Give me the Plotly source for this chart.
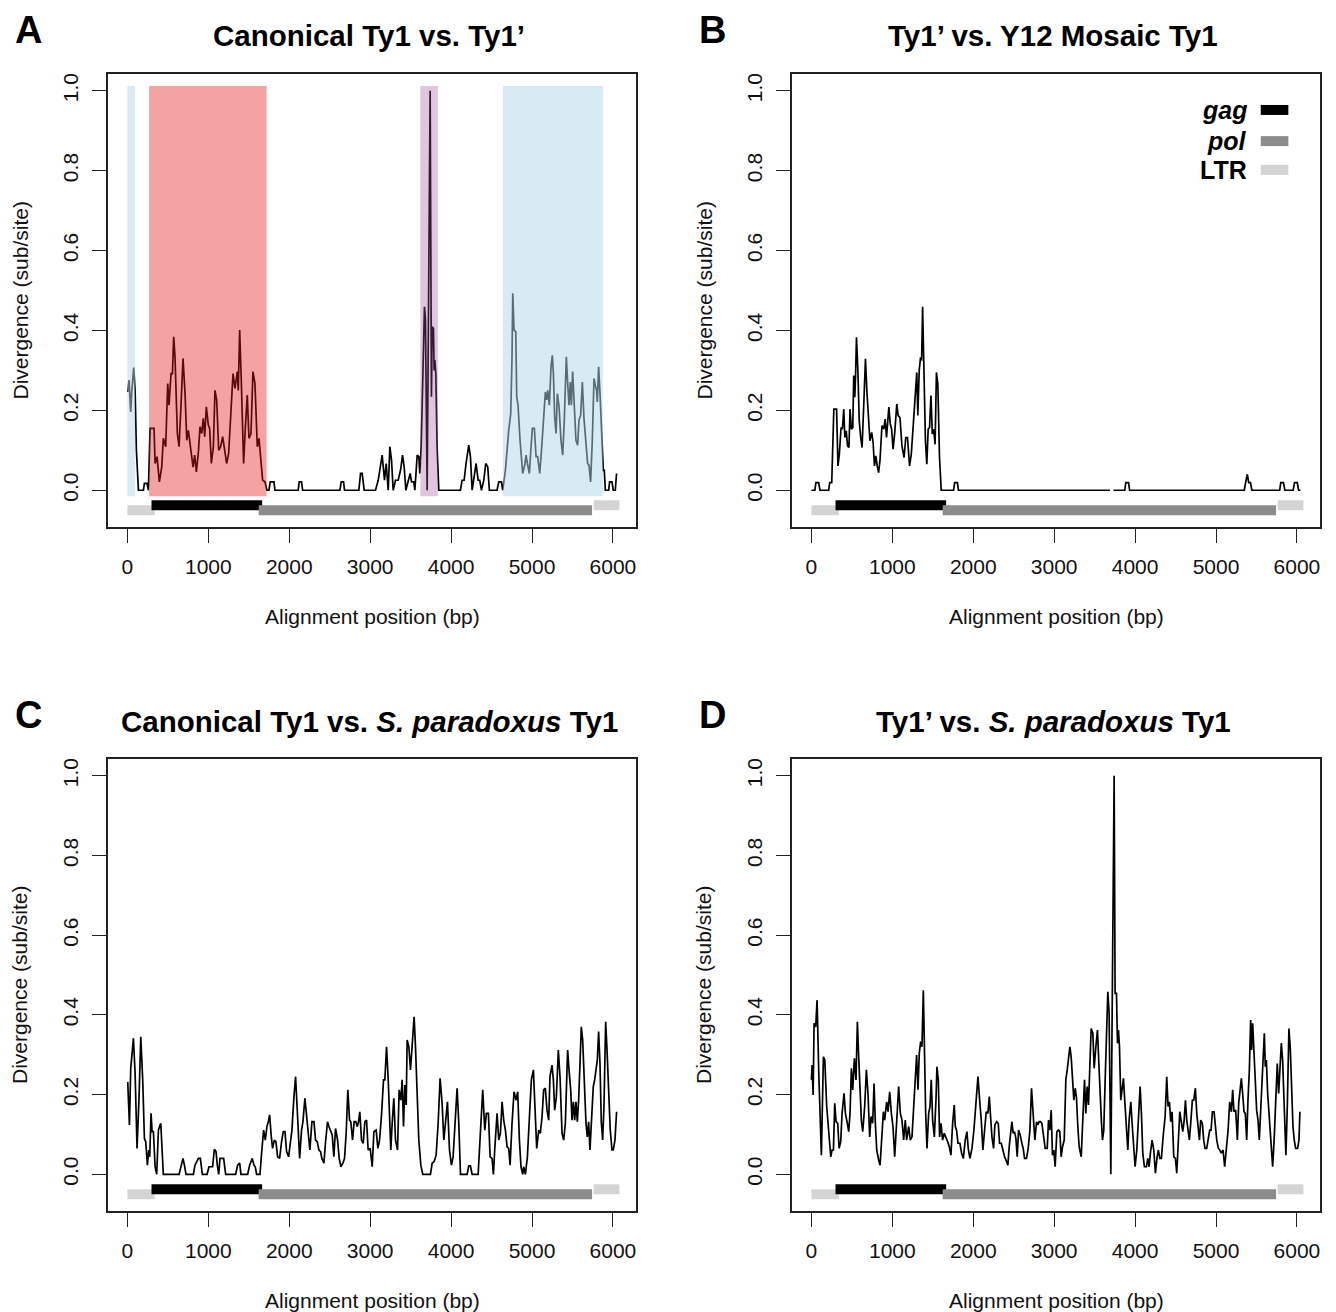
import plotly.graph_objects as go

# ---- data ----
# panel A: Canonical Ty1 vs. Ty1'
a_pos = [4, 20, 41, 53, 78, 95, 111, 136, 198, 210,
         243, 259, 280, 329, 342, 366, 395, 424, 444, 473,
         498, 514, 539, 556, 572, 588, 617, 638, 663, 687,
         712, 733, 753, 774, 794, 811, 831, 852, 877, 897,
         918, 938, 955, 975, 1000, 1016, 1037, 1062, 1082, 1103,
         1128, 1152, 1177, 1202, 1226, 1251, 1276, 1305, 1329, 1358,
         1370, 1387, 1407, 1436, 1457, 1481, 1502, 1527, 1551, 1576,
         1605, 1626, 1642, 1671, 1700, 1724, 1749, 1765, 1811, 1823,
         2111, 2123, 2152, 2165, 2626, 2642, 2671, 2683, 2860, 2881,
         2901, 2926, 3066, 3099, 3148, 3177, 3198, 3223, 3243, 3264,
         3284, 3313, 3346, 3375, 3400, 3420, 3441, 3469, 3494, 3511,
         3539, 3552, 3581, 3601, 3613, 3630, 3650, 3671, 3683, 3696,
         3704, 3741, 3757, 3766, 3782, 3790, 3799, 3811, 3827, 3848,
         4115, 4136, 4161, 4185, 4218, 4239, 4260, 4284, 4309, 4334,
         4354, 4375, 4404, 4428, 4453, 4473, 4568, 4589, 4622, 4638,
         4671, 4712, 4737, 4753, 4762, 4778, 4799, 4811, 4827, 4852,
         4885, 4910, 4926, 4943, 4967, 4988, 5004, 5029, 5050, 5070,
         5095, 5120, 5144, 5165, 5181, 5194, 5214, 5235, 5251, 5264,
         5280, 5297, 5313, 5334, 5358, 5379, 5399, 5424, 5441, 5457,
         5473, 5486, 5502, 5523, 5543, 5564, 5580, 5601, 5622, 5642,
         5667, 5687, 5704, 5724, 5745, 5766, 5782, 5798, 5807, 5823,
         5840, 5856, 5881, 5893, 5906, 5947, 5959, 5988, 6004, 6029,
         6045]
a_div = [0.246, 0.276, 0.196, 0.246, 0.307, 0.250, 0.100, 0, 0, 0.017,
         0.017, 0, 0.155, 0.155, 0.067, 0.084, 0.021, 0.058, 0.130, 0.109,
         0.267, 0.213, 0.292, 0.292, 0.384, 0.334, 0.142, 0.109, 0.217, 0.330,
         0.242, 0.125, 0.150, 0.117, 0.096, 0.058, 0.088, 0.046, 0.096, 0.159,
         0.142, 0.180, 0.134, 0.209, 0.163, 0.155, 0.067, 0.109, 0.250, 0.226,
         0.100, 0.109, 0.134, 0.092, 0.067, 0.092, 0.175, 0.292, 0.255, 0.297,
         0.250, 0.401, 0.276, 0.067, 0.155, 0.238, 0.130, 0.142, 0.297, 0.267,
         0.109, 0.130, 0.092, 0.025, 0.021, 0, 0, 0.021, 0.021, 0,
         0, 0.021, 0.021, 0, 0, 0.021, 0.021, 0, 0, 0.042,
         0.042, 0, 0, 0.025, 0.088, 0.025, 0.067, 0, 0.109, 0.075,
         0, 0.025, 0.025, 0.050, 0.088, 0.058, 0, 0.021, 0.042, 0.021,
         0.021, 0, 0.088, 0.084, 0.042, 0.109, 0.259, 0.459, 0.426, 0.192,
         0, 1.0, 0.234, 0.409, 0.405, 0.300, 0.326, 0.292, 0.109, 0,
         0, 0.025, 0.025, 0.067, 0.113, 0.084, 0, 0.033, 0.067, 0.025,
         0.025, 0, 0.025, 0.067, 0.058, 0, 0, 0.021, 0.021, 0,
         0.050, 0.150, 0.192, 0.334, 0.493, 0.401, 0.397, 0.234, 0.213, 0.125,
         0.042, 0.063, 0.088, 0.067, 0.042, 0.109, 0.155, 0.155, 0.084, 0.084,
         0.042, 0.109, 0.175, 0.246, 0.226, 0.250, 0.213, 0.309, 0.338, 0.292,
         0.184, 0.142, 0.242, 0.209, 0.125, 0.088, 0.175, 0.334, 0.267, 0.213,
         0.271, 0.213, 0.297, 0.192, 0.125, 0.113, 0.175, 0.188, 0.271, 0.180,
         0.125, 0.067, 0.063, 0.021, 0.125, 0.280, 0.263, 0.250, 0.221, 0.309,
         0.242, 0.155, 0.050, 0.050, 0, 0, 0.021, 0.021, 0, 0,
         0.042]

# panel B: Ty1' vs. Y12 Mosaic Ty1 (None = gap in alignment)
b_pos = [0, 43, 55, 89, 106, 213, 226, 251, 277, 311,
         328, 345, 366, 383, 400, 413, 430, 447, 464, 477,
         494, 511, 523, 536, 545, 557, 574, 591, 609, 626,
         647, 668, 685, 706, 723, 745, 762, 779, 796, 813,
         830, 847, 872, 894, 911, 928, 940, 957, 974, 991,
         1009, 1030, 1055, 1072, 1094, 1119, 1145, 1166, 1187, 1213,
         1234, 1255, 1277, 1302, 1315, 1332, 1349, 1362, 1374, 1391,
         1409, 1426, 1443, 1460, 1477, 1494, 1511, 1528, 1545, 1562,
         1583, 1604, 1757, 1770, 1804, 1817, 3689, 3700, 3732, 3872,
         3885, 3919, 3932, 5349, 5366, 5387, 5404, 5426, 5443, 5787,
         5800, 5834, 5851, 5953, 5970, 6004, 6021, 6043]
b_div = [0, 0, 0.019, 0.019, 0, 0, 0.019, 0.019, 0.203, 0.203,
         0.061, 0.090, 0.157, 0.153, 0.203, 0.132, 0.149, 0.111, 0.107, 0.203,
         0.153, 0.157, 0.287, 0.233, 0.283, 0.383, 0.300, 0.174, 0.132, 0.107,
         0.216, 0.329, 0.249, 0.166, 0.124, 0.145, 0.120, 0.061, 0.086, 0.061,
         0.044, 0.074, 0.162, 0.153, 0.178, 0.132, 0.157, 0.208, 0.166, 0.153,
         0.103, 0.145, 0.216, 0.187, 0.182, 0.111, 0.082, 0.132, 0.132, 0.061,
         0.090, 0.149, 0.228, 0.295, 0.187, 0.300, 0.333, 0.325, 0.459, 0.308,
         0.124, 0.065, 0.153, 0.157, 0.237, 0.141, 0.153, 0.115, 0.295, 0.266,
         0.082, 0, 0, 0.019, 0.019, 0, 0, None, 0, 0,
         0.019, 0.019, 0, 0, 0.019, 0.040, 0.019, 0.019, 0, 0,
         0.019, 0.019, 0, 0, 0.019, 0.019, 0, 0]

# panel C: Canonical Ty1 vs. S. paradoxus Ty1
c_pos = [4, 25, 41, 74, 95, 119, 144, 165, 189, 210,
         226, 247, 263, 276, 292, 305, 321, 342, 362, 383,
         412, 424, 444, 638, 663, 687, 704, 724, 815, 835,
         877, 901, 926, 984, 1008, 1053, 1074, 1095, 1111, 1128,
         1144, 1189, 1214, 1337, 1362, 1387, 1403, 1486, 1510, 1543,
         1564, 1580, 1597, 1638, 1658, 1683, 1704, 1724, 1741, 1757,
         1778, 1794, 1815, 1835, 1856, 1881, 1905, 1926, 1947, 1967,
         1992, 2012, 2033, 2058, 2078, 2103, 2128, 2152, 2169, 2193,
         2218, 2239, 2255, 2280, 2305, 2325, 2346, 2366, 2387, 2403,
         2428, 2449, 2473, 2490, 2510, 2531, 2551, 2572, 2597, 2617,
         2638, 2663, 2683, 2704, 2724, 2745, 2761, 2782, 2802, 2823,
         2840, 2856, 2872, 2893, 2914, 2934, 2955, 2975, 3000, 3025,
         3046, 3074, 3095, 3116, 3140, 3165, 3181, 3202, 3223, 3239,
         3255, 3272, 3292, 3313, 3338, 3358, 3379, 3395, 3412, 3428,
         3445, 3457, 3478, 3498, 3519, 3543, 3560, 3581, 3601, 3626,
         3650, 3745, 3766, 3790, 3815, 3840, 3864, 3889, 3910, 3930,
         3955, 3980, 4004, 4025, 4050, 4074, 4095, 4116, 4198, 4218,
         4239, 4260, 4334, 4362, 4391, 4416, 4436, 4461, 4482, 4506,
         4523, 4539, 4568, 4589, 4609, 4630, 4650, 4671, 4692, 4712,
         4729, 4753, 4778, 4803, 4823, 4844, 4864, 4885, 4897, 4918,
         4943, 4967, 4992, 5017, 5037, 5058, 5083, 5103, 5124, 5144,
         5165, 5185, 5206, 5222, 5247, 5264, 5280, 5301, 5325, 5346,
         5371, 5391, 5412, 5440, 5461, 5478, 5494, 5511, 5527, 5543,
         5560, 5576, 5593, 5609, 5626, 5646, 5667, 5683, 5700, 5716,
         5737, 5757, 5774, 5791, 5807, 5823, 5840, 5856, 5873, 5889,
         5910, 5926, 5947, 5967, 5988, 6004, 6025, 6045]
c_div = [0.232, 0.124, 0.266, 0.341, 0.253, 0.065, 0.195, 0.345, 0.237, 0.090,
         0.082, 0.023, 0.061, 0.044, 0.153, 0.107, 0.107, 0.019, 0, 0.111,
         0.128, 0.086, 0, 0, 0.023, 0.040, 0.023, 0, 0, 0.023,
         0.040, 0.040, 0, 0, 0.019, 0.019, 0.063, 0.057, 0.023, 0,
         0.040, 0.040, 0, 0, 0.023, 0.028, 0, 0, 0.023, 0.040,
         0.023, 0.019, 0, 0, 0.053, 0.111, 0.086, 0.120, 0.132, 0.149,
         0.094, 0.065, 0.086, 0.082, 0.044, 0.040, 0.082, 0.107, 0.107, 0.057,
         0.044, 0.078, 0.111, 0.195, 0.245, 0.145, 0.040, 0.111, 0.132, 0.191,
         0.140, 0.090, 0.061, 0.132, 0.132, 0.086, 0.082, 0.061, 0.057, 0.040,
         0.028, 0.082, 0.132, 0.120, 0.111, 0.099, 0.044, 0.115, 0.086, 0.040,
         0.019, 0.028, 0.040, 0.107, 0.212, 0.136, 0.132, 0.086, 0.132, 0.132,
         0.120, 0.132, 0.157, 0.086, 0.078, 0.132, 0.136, 0.061, 0.065, 0.019,
         0.107, 0.111, 0.065, 0.086, 0.149, 0.237, 0.237, 0.320, 0.237, 0.128,
         0.061, 0.128, 0.191, 0.086, 0.061, 0.212, 0.186, 0.237, 0.120, 0.224,
         0.174, 0.337, 0.320, 0.262, 0.324, 0.395, 0.320, 0.178, 0.086, 0.023,
         0, 0, 0.028, 0.032, 0.048, 0.128, 0.241, 0.178, 0.086, 0.128,
         0.182, 0.061, 0.023, 0.044, 0.128, 0.216, 0.128, 0, 0, 0.021,
         0.021, 0, 0, 0.111, 0.212, 0.111, 0.153, 0.153, 0.044, 0.040,
         0, 0.061, 0.153, 0.086, 0.103, 0.182, 0.136, 0.111, 0.069, 0.065,
         0.023, 0.128, 0.207, 0.186, 0.207, 0.086, 0.019, 0, 0.019, 0,
         0.044, 0.140, 0.237, 0.262, 0.145, 0.065, 0.111, 0.103, 0.145, 0.212,
         0.216, 0.161, 0.136, 0.245, 0.274, 0.237, 0.161, 0.195, 0.312, 0.245,
         0.103, 0.086, 0.128, 0.312, 0.253, 0.212, 0.136, 0.182, 0.136, 0.182,
         0.132, 0.186, 0.278, 0.370, 0.337, 0.212, 0.128, 0.094, 0.132, 0.061,
         0.128, 0.220, 0.237, 0.262, 0.287, 0.358, 0.278, 0.132, 0.086, 0.170,
         0.383, 0.316, 0.195, 0.111, 0.061, 0.061, 0.086, 0.157]

# panel D: Ty1' vs. S. paradoxus Ty1
d_pos = [0, 8, 21, 33, 53, 70, 91, 107, 123, 148,
         165, 189, 214, 239, 255, 272, 288, 305, 325, 342,
         362, 379, 403, 420, 440, 461, 477, 494, 510, 531,
         551, 568, 584, 601, 617, 634, 658, 679, 700, 720,
         737, 757, 774, 790, 807, 831, 848, 864, 889, 905,
         930, 947, 967, 988, 1008, 1029, 1053, 1078, 1099, 1119,
         1140, 1160, 1177, 1202, 1222, 1243, 1263, 1284, 1300, 1317,
         1333, 1350, 1366, 1383, 1399, 1412, 1428, 1449, 1465, 1481,
         1498, 1519, 1539, 1551, 1568, 1584, 1601, 1621, 1642, 1663,
         1683, 1704, 1724, 1745, 1765, 1778, 1794, 1811, 1835, 1856,
         1877, 1901, 1922, 1938, 1959, 1984, 2008, 2033, 2058, 2082,
         2099, 2119, 2140, 2160, 2181, 2198, 2214, 2231, 2251, 2267,
         2288, 2309, 2325, 2346, 2366, 2387, 2412, 2428, 2444, 2461,
         2477, 2494, 2510, 2527, 2543, 2560, 2580, 2601, 2617, 2634,
         2658, 2679, 2700, 2720, 2741, 2761, 2782, 2798, 2815, 2831,
         2848, 2868, 2889, 2914, 2930, 2947, 2963, 2979, 2996, 3012,
         3033, 3053, 3070, 3086, 3103, 3124, 3144, 3161, 3177, 3194,
         3210, 3227, 3243, 3260, 3276, 3292, 3309, 3334, 3354, 3375,
         3391, 3408, 3424, 3445, 3457, 3478, 3494, 3515, 3535, 3552,
         3568, 3585, 3597, 3613, 3630, 3646, 3663, 3679, 3700, 3741,
         3753, 3770, 3782, 3794, 3807, 3823, 3840, 3856, 3873, 3893,
         3910, 3926, 3947, 3963, 3984, 4000, 4021, 4041, 4062, 4078,
         4095, 4115, 4140, 4157, 4173, 4189, 4210, 4231, 4251, 4272,
         4288, 4305, 4325, 4346, 4371, 4391, 4408, 4424, 4441, 4457,
         4478, 4498, 4515, 4531, 4552, 4568, 4589, 4605, 4622, 4638,
         4655, 4671, 4687, 4708, 4725, 4745, 4762, 4778, 4795, 4811,
         4831, 4848, 4864, 4885, 4902, 4922, 4939, 4955, 4976, 4992,
         5009, 5029, 5046, 5066, 5087, 5107, 5128, 5149, 5169, 5190,
         5206, 5222, 5243, 5264, 5280, 5296, 5313, 5329, 5346, 5362,
         5379, 5395, 5412, 5428, 5440, 5453, 5469, 5486, 5502, 5519,
         5535, 5552, 5568, 5585, 5597, 5609, 5622, 5638, 5654, 5675,
         5700, 5720, 5741, 5757, 5774, 5790, 5807, 5823, 5844, 5864,
         5881, 5901, 5918, 5934, 5951, 5967, 5984, 6008, 6025, 6037]
d_div = [0.237, 0.274, 0.199, 0.379, 0.370, 0.437, 0.253, 0.111, 0.048, 0.295,
         0.287, 0.170, 0.103, 0.044, 0.061, 0.061, 0.178, 0.132, 0.128, 0.065,
         0.082, 0.153, 0.203, 0.153, 0.132, 0.107, 0.153, 0.266, 0.212, 0.291,
         0.237, 0.383, 0.295, 0.216, 0.136, 0.107, 0.170, 0.262, 0.199, 0.094,
         0.145, 0.128, 0.228, 0.128, 0.061, 0.036, 0.023, 0.074, 0.157, 0.136,
         0.182, 0.157, 0.207, 0.153, 0.120, 0.044, 0.136, 0.220, 0.153, 0.136,
         0.086, 0.136, 0.086, 0.120, 0.086, 0.094, 0.166, 0.237, 0.299, 0.212,
         0.304, 0.333, 0.320, 0.462, 0.245, 0.153, 0.065, 0.153, 0.170, 0.237,
         0.136, 0.094, 0.186, 0.270, 0.237, 0.094, 0.128, 0.086, 0.103, 0.094,
         0.082, 0.069, 0.048, 0.128, 0.174, 0.120, 0.111, 0.078, 0.078, 0.053,
         0.040, 0.086, 0.107, 0.065, 0.040, 0.065, 0.111, 0.178, 0.245, 0.178,
         0.136, 0.061, 0.120, 0.157, 0.153, 0.195, 0.145, 0.094, 0.065, 0.124,
         0.132, 0.128, 0.078, 0.078, 0.061, 0.044, 0.032, 0.023, 0.069, 0.099,
         0.132, 0.103, 0.107, 0.090, 0.044, 0.111, 0.099, 0.078, 0.065, 0.040,
         0.040, 0.065, 0.111, 0.216, 0.136, 0.086, 0.132, 0.124, 0.132, 0.132,
         0.128, 0.094, 0.065, 0.065, 0.136, 0.111, 0.161, 0.048, 0.061, 0.019,
         0.107, 0.111, 0.107, 0.044, 0.069, 0.086, 0.237, 0.262, 0.295, 0.320,
         0.295, 0.237, 0.186, 0.216, 0.191, 0.120, 0.069, 0.044, 0.153, 0.237,
         0.153, 0.220, 0.174, 0.320, 0.366, 0.354, 0.266, 0.320, 0.362, 0.278,
         0.186, 0.128, 0.086, 0.111, 0.237, 0.362, 0.458, 0.404, 0, 1.0,
         0.454, 0.454, 0.329, 0.362, 0.320, 0.186, 0.212, 0.241, 0.182, 0.120,
         0.061, 0.136, 0.182, 0.128, 0.061, 0.019, 0.061, 0.136, 0.220, 0.153,
         0.053, 0.019, 0.019, 0.040, 0.019, 0.053, 0.086, 0.061, 0.003, 0.044,
         0.061, 0.040, 0.040, 0.094, 0.145, 0.245, 0.170, 0.182, 0.132, 0.157,
         0.044, 0.040, 0.003, 0.069, 0.157, 0.136, 0.107, 0.132, 0.186, 0.136,
         0.111, 0.086, 0.128, 0.186, 0.186, 0.216, 0.153, 0.111, 0.086, 0.136,
         0.128, 0.086, 0.065, 0.065, 0.086, 0.111, 0.111, 0.157, 0.157, 0.111,
         0.086, 0.065, 0.061, 0.053, 0.061, 0.019, 0.061, 0.111, 0.182, 0.157,
         0.212, 0.157, 0.161, 0.086, 0.178, 0.203, 0.241, 0.203, 0.157, 0.153,
         0.086, 0.186, 0.262, 0.387, 0.312, 0.379, 0.304, 0.212, 0.161, 0.136,
         0.086, 0.161, 0.245, 0.304, 0.354, 0.270, 0.287, 0.203, 0.149, 0.094,
         0.019, 0.094, 0.178, 0.278, 0.203, 0.262, 0.329, 0.287, 0.170, 0.048,
         0.170, 0.366, 0.316, 0.212, 0.120, 0.086, 0.065, 0.065, 0.086, 0.157]

# Ty1 element annotation drawn under every panel
gene_names = ["LTR", "gag", "pol", "LTR"]
gene_start = [0, 298, 1622, 5762]
gene_end = [338, 1665, 5742, 6080]
gene_y = [-0.05, -0.0375, -0.05, -0.0375]

# shaded recombination blocks in panel A
block_start = [0, 268, 3620, 4640]
block_end = [95, 1720, 3836, 5875]
block_kind = ["blue", "red", "purple", "blue"]

panel_titles = ["<b>Canonical Ty1 vs. Ty1’</b>",
                "<b>Ty1’ vs. Y12 Mosaic Ty1</b>",
                "<b>Canonical Ty1 vs. <i>S. paradoxus</i> Ty1</b>",
                "<b>Ty1’ vs. <i>S. paradoxus</i> Ty1</b>"]
panel_letters = ["A", "B", "C", "D"]
legend_labels = ["<b><i>gag</i></b>", "<b><i>pol</i></b>", "<b>LTR</b>"]
legend_feature = ["gag", "pol", "LTR"]
legend_y = [0.952, 0.874, 0.802]

x_ticks = [0, 1000, 2000, 3000, 4000, 5000, 6000]
y_ticks = [0.0, 0.2, 0.4, 0.6, 0.8, 1.0]
y_ticktext = ["0.0", "0.2", "0.4", "0.6", "0.8", "1.0"]

# ---- styling ----
# the page body has an 8px margin, so the figure is drawn 8px smaller and
# every page-pixel position is shifted by OFF
OFF = 8
W, H = 1336 - OFF, 1312 - OFF
FONT = "Liberation Sans, Arial, Helvetica, sans-serif"
gene_color = {"gag": "black", "pol": "#8c8c8c", "LTR": "#d4d4d4"}
block_color = {"blue": "rgba(173,216,230,0.5)",
               "red": "rgba(228,26,28,0.4)",
               "purple": "rgba(160,80,150,0.33)"}


def px(x):
    return (x - OFF) / W


def py(y):
    return 1 - (y - OFF) / H


series = [(a_pos, a_div), (b_pos, b_div), (c_pos, c_div), (d_pos, d_div)]
# plot boxes in page pixels: left, right, top, bottom
boxes = [(108, 636, 74, 527), (792, 1320, 74, 527),
         (108, 636, 759, 1211), (792, 1320, 759, 1211)]

fig = go.Figure()
annotations = []
shapes = []

for i, (pos, div) in enumerate(series):
    n = "" if i == 0 else str(i + 1)
    xa, ya = "x" + n, "y" + n
    left, right, top, bottom = boxes[i]

    fig.add_trace(go.Scatter(x=pos, y=div, mode="lines", xaxis=xa, yaxis=ya,
                             line={"color": "black", "width": 1.7},
                             connectgaps=False, hoverinfo="skip"))
    for name, s, e, yy in zip(gene_names, gene_start, gene_end, gene_y):
        fig.add_trace(go.Bar(x=[e - s], base=[s], y=[yy], orientation="h",
                             width=0.025, xaxis=xa, yaxis=ya,
                             marker={"color": gene_color[name], "line": {"width": 0}},
                             hoverinfo="skip"))

    axis_common = dict(showline=True, mirror=True, linecolor="#222", linewidth=1.5,
                       ticks="outside", ticklen=14, tickwidth=1.3, tickcolor="#222",
                       showgrid=False, zeroline=False,
                       tickfont={"size": 21, "family": FONT, "color": "#111"})
    fig.update_layout({
        ("xaxis" + n): dict(axis_common, domain=[px(left), px(right)], anchor=ya,
                            range=[-240, 6285], tickvals=x_ticks,
                            ticklabelstandoff=6),
        ("yaxis" + n): dict(axis_common, domain=[py(bottom), py(top)], anchor=xa,
                            range=[-0.092, 1.042], tickvals=y_ticks, ticktext=y_ticktext,
                            tickangle=-90, ticklabelstandoff=6),
    })

    cx = (left + right) / 2
    cy = (top + bottom) / 2
    annotations += [
        dict(text="<b>" + panel_letters[i] + "</b>", x=px(left - 80), y=py(top - 44),
             font={"size": 38, "family": FONT, "color": "black"}, borderpad=0),
        dict(text=panel_titles[i], x=px(cx - 3), y=py(top - 38),
             font={"size": 29.5, "family": FONT, "color": "black"}),
        dict(text="Alignment position (bp)", x=px(cx), y=py(bottom + 89),
             font={"size": 21, "family": FONT, "color": "#111"}),
        dict(text="Divergence (sub/site)", x=px(left - 88), y=py(cy),
             textangle=-90, font={"size": 21, "family": FONT, "color": "#111"}),
    ]

# shaded blocks over the panel A trace
for s, e, k in zip(block_start, block_end, block_kind):
    shapes.append(dict(type="rect", xref="x", yref="y", x0=s, x1=e, y0=-0.015, y1=1.012,
                       fillcolor=block_color[k], line={"width": 0}, layer="above"))

# feature key inside panel B
for lab, feat, yy in zip(legend_labels, legend_feature, legend_y):
    annotations.append(dict(text=lab, xref="x2", yref="y2", x=5404, y=yy,
                            xanchor="right", yanchor="middle",
                            font={"size": 25, "family": FONT, "color": "black"}))
    shapes.append(dict(type="rect", xref="x2", yref="y2", x0=5553, x1=5894,
                       y0=yy - 0.0125, y1=yy + 0.0125,
                       fillcolor=gene_color[feat], line={"width": 0}))

for a in annotations:
    a.setdefault("xref", "paper")
    a.setdefault("yref", "paper")
    a.setdefault("xanchor", "center")
    a.setdefault("yanchor", "middle")
    a["showarrow"] = False

fig.update_layout(width=W, height=H, margin={"l": 0, "r": 0, "t": 0, "b": 0},
                  paper_bgcolor="white", plot_bgcolor="white",
                  barmode="overlay", showlegend=False,
                  font={"family": FONT},
                  annotations=annotations, shapes=shapes)

fig.write_html("out.html")
